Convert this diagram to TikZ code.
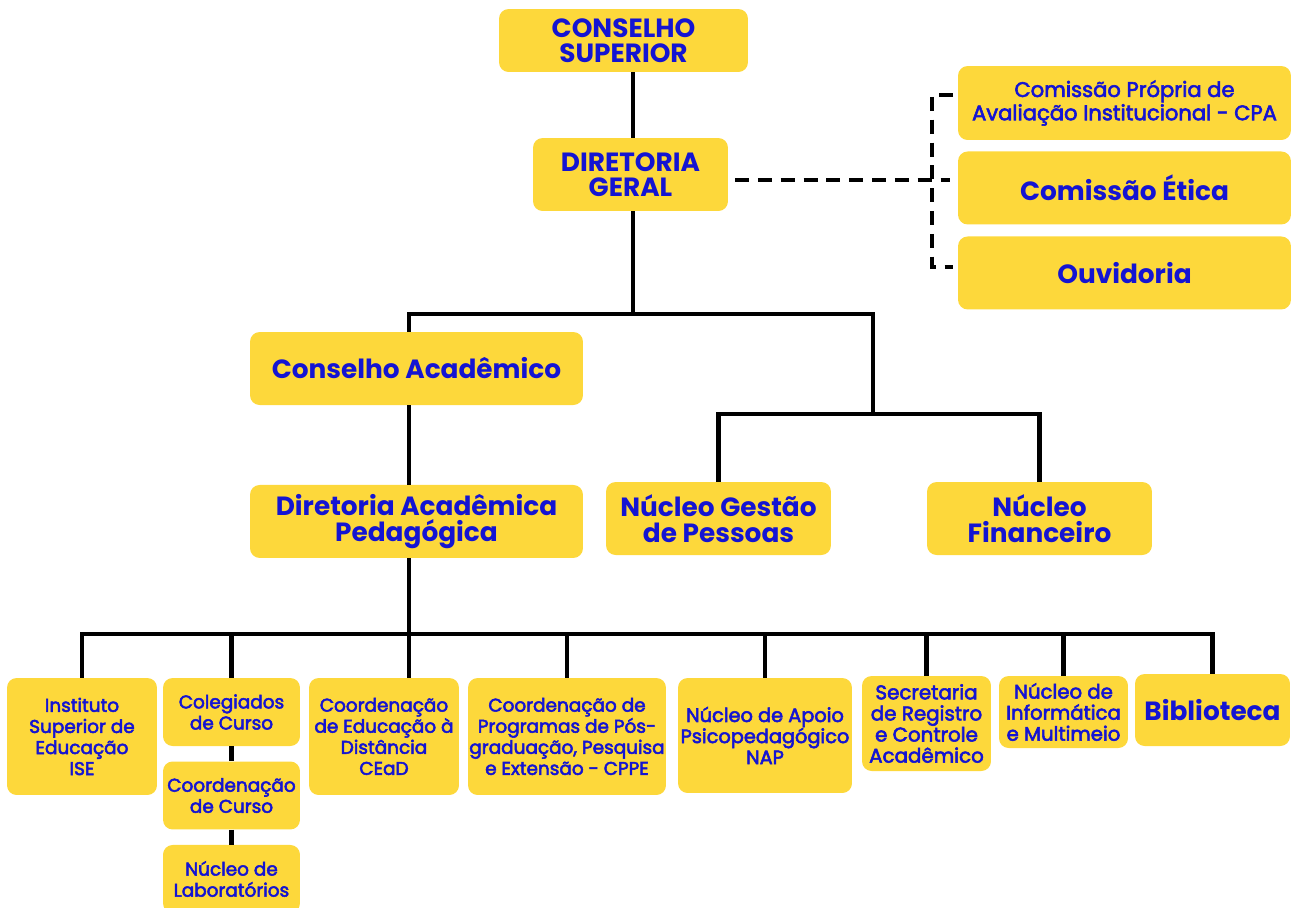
\documentclass[tikz,border=0pt]{standalone}
\usepackage{fontspec}
\setmainfont{Poppins}
\newfontfamily\medfont[FakeBold=2.8]{Poppins}
\usetikzlibrary{positioning}
\definecolor{orgyellow}{HTML}{FDD83B}
\definecolor{orgblue}{HTML}{1414D2}

\tikzset{
  unit/.style={fill=orgyellow, text=orgblue, rounded corners=5.5pt, align=center, inner sep=0pt},
  big/.style={unit, font=\fontsize{15}{14.5}\selectfont\bfseries},
  mid/.style={unit, font=\medfont\fontsize{12}{11.5}\selectfont},
  small/.style={unit, font=\medfont\fontsize{10.5}{12}\selectfont},
  link/.style={line width=2.3pt},
  dashlink/.style={line width=1.8pt, dash pattern=on 8pt off 5pt},
}

\begin{document}
\begin{tikzpicture}[x=0.02cm, y=-0.02cm, on grid]
  \useasboundingbox (0,0) rectangle (1296,907);

  % top of the chart
  \node[big, minimum width=4.98cm, minimum height=1.26cm] (cs) at (623.5,40.5) {CONSELHO\\SUPERIOR};
  \node[big, minimum width=3.9cm, minimum height=1.46cm] (dg) at (630.5,174.5) {DIRETORIA\\GERAL};

  % committees
  \node[mid, minimum width=6.66cm, minimum height=1.48cm] (cpa) at (1124.5,103) {Comissão Própria de\\Avaliação Institucional - CPA};
  \node[big, minimum width=6.66cm, minimum height=1.46cm] (ce)  [below=1.7cm of cpa] {Comissão Ética};
  \node[big, minimum width=6.66cm, minimum height=1.46cm] (ouv) [below=1.7cm of ce]  {Ouvidoria};

  % second level
  \node[big, minimum width=6.66cm, minimum height=1.46cm] (ca)  at (416.5,368.5) {Conselho Acadêmico};
  \node[big, minimum width=6.66cm, minimum height=1.46cm] (dap) [below=3.06cm of ca] {Diretoria Acadêmica\\Pedagógica};
  \node[big, minimum width=4.5cm, minimum height=1.46cm] (ngp) at (718.5,518.5) {Núcleo Gestão\\de Pessoas};
  \node[big, minimum width=4.5cm, minimum height=1.46cm] (nf)  at (1039.5,518.5) {Núcleo\\Financeiro};

  % bottom row
  \node[small, minimum width=3cm, minimum height=2.34cm] (ise) at (82,736.5) {Instituto\\Superior de\\Educação\\ISE};
  \node[small, minimum width=2.74cm, minimum height=1.36cm] (col) at (231.5,712) {Colegiados\\de Curso};
  \node[small, minimum width=2.74cm, minimum height=1.36cm] (cc)  [below=1.67cm of col] {Coordenação\\de Curso};
  \node[small, minimum width=2.74cm, minimum height=1.36cm] (lab) [below=1.67cm of cc]  {Núcleo de\\Laboratórios};
  \node[small, minimum width=3cm, minimum height=2.34cm] (cead) at (384,736.5) {Coordenação\\de Educação à\\Distância\\CEaD};
  \node[small, minimum width=3.96cm, minimum height=2.34cm] (cppe) at (567,736.5) {Coordenação de\\Programas de Pós-\\graduação, Pesquisa\\e Extensão - CPPE};
  \node[small, font=\medfont\fontsize{11}{12}\selectfont, minimum width=3.48cm, minimum height=2.3cm] (nap) at (765,735.5) {Núcleo de Apoio\\Psicopedagógico\\NAP};
  \node[small, font=\medfont\fontsize{11.3}{12}\selectfont, minimum width=2.58cm, minimum height=1.9cm] (sec) at (926.5,723.5) {Secretaria\\de Registro\\e Controle\\Acadêmico};
  \node[small, font=\medfont\fontsize{11.2}{12}\selectfont, minimum width=2.58cm, minimum height=1.44cm] (inf) at (1063.5,712) {Núcleo de\\Informática\\e Multimeio};
  \node[big, minimum width=3.1cm, minimum height=1.44cm] (bib) at (1212.5,710) {Biblioteca};

  % junctions
  \coordinate (top)  at (633,314);
  \coordinate (acad) at (409,314);
  \coordinate (jn)   at (873,414);
  \coordinate (bus)  at (409,634);
  \coordinate (dj)   at (932,180);
  \coordinate (djstart) at (735,180);
  \coordinate (djend)   at (950,180);
  \coordinate (dtop) at (932,95);
  \coordinate (dbot) at (932,267);
  \coordinate (dtopend) at (953,95);
  \coordinate (dbotend) at (953,267);

  \draw[link] (top |- cs.south) -- (top |- dg.north);
  \draw[link] (top |- dg.south) -- (top);
  \draw[link] (acad |- ca.north) -- (acad) -- (jn |- acad) -- (jn);
  \draw[link] (ngp.north) |- (jn) -| (nf.north);
  \draw[link] (acad |- ca.south) -- (acad |- dap.north);
  \draw[link] (acad |- dap.south) -- (acad |- cead.north);
  \draw[link] (ise.north) |- (bus) -| (bib.north);
  \foreach \n in {col,cppe,nap,sec,inf}
    \draw[link] (\n.north) -- (\n.north |- bus);
  \draw[link] (col.south) -- (cc.north);
  \draw[link] (cc.south) -- (lab.north);

  \draw[dashlink] (djstart) -- (djend);
  \draw[dashlink] (dtopend) -- (dtop) -- (dbot) -- (dbotend);
\end{tikzpicture}
\end{document}
